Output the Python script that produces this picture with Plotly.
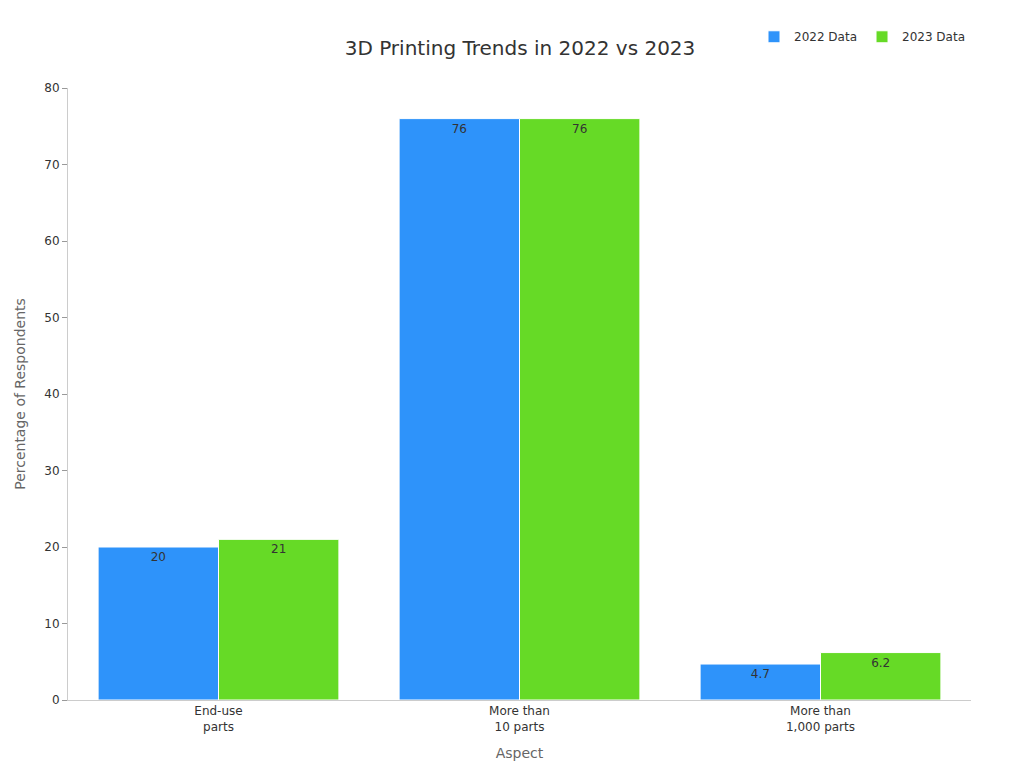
import plotly.graph_objects as go

categories = ["End-use<br>parts", "More than<br>10 parts", "More than<br>1,000 parts"]
data_2022 = [20, 76, 4.7]
data_2023 = [21, 76, 6.2]

fig = go.Figure()
for name, vals, col in [("2022 Data", data_2022, "#2E93FA"), ("2023 Data", data_2023, "#66DA26")]:
    fig.add_trace(go.Bar(
        x=categories, y=vals, name=name, marker=dict(color=col, line=dict(color="white", width=1)),
        text=[str(v) for v in vals], textposition="inside", insidetextanchor="end",
        textfont=dict(color="#333333", size=12),
    ))

fig.update_layout(
    width=1024, height=768,
    font=dict(family="DejaVu Sans, sans-serif", color="#333333"),
    title=dict(text="3D Printing Trends in 2022 vs 2023", x=0.5, xanchor="center", y=0.957, font=dict(size=20)),
    barmode="group", bargap=0.2, bargroupgap=0,
    plot_bgcolor="white", paper_bgcolor="white",
    margin=dict(l=60, r=61, t=80, b=76),
    legend=dict(orientation="h", x=1, xanchor="right", y=1.06, yanchor="bottom", font=dict(size=12)),
    xaxis=dict(title=dict(text="Aspect", font=dict(size=14, color="#666666")), showline=True, linecolor="#cccccc",
               tickfont=dict(size=12), ticks=""),
    yaxis=dict(title=dict(text="Percentage of Respondents", font=dict(size=14, color="#666666")), range=[0, 80], dtick=10,
               showgrid=False, showline=True, linecolor="#cccccc", ticks="outside", tickcolor="#999999",
               zeroline=False, tickfont=dict(size=12)),
)
fig.write_html("out.html")
